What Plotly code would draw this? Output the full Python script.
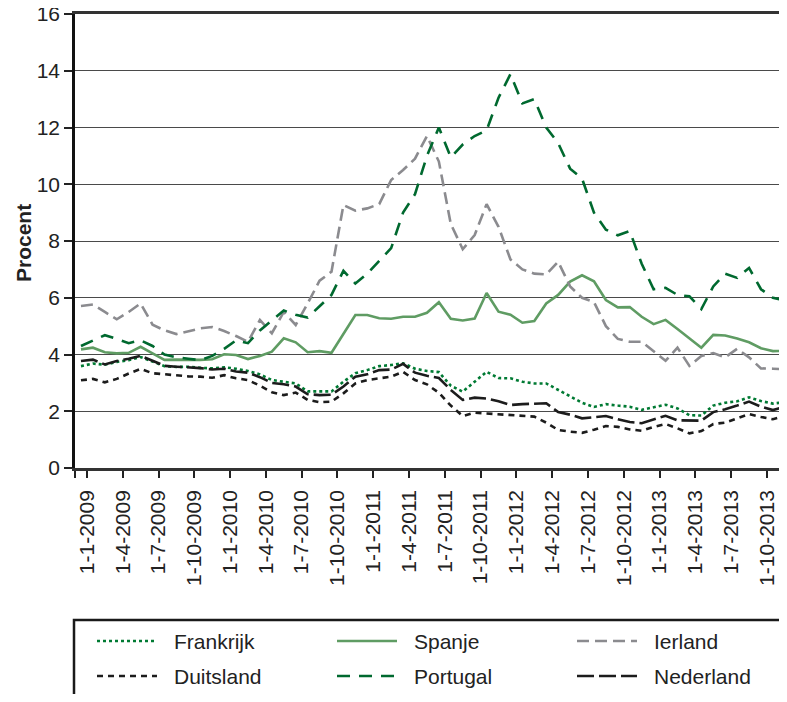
import plotly.graph_objects as go

# monthly values, jan 2009 - dec 2013 (index 0..59)
months = list(range(60))

frankrijk = [3.59, 3.68, 3.64, 3.74, 3.80, 3.91, 3.75, 3.59, 3.56, 3.57, 3.53, 3.51,
             3.55, 3.50, 3.42, 3.30, 3.10, 3.05, 2.98, 2.70, 2.70, 2.70, 3.04, 3.34,
             3.45, 3.59, 3.63, 3.69, 3.50, 3.42, 3.38, 2.90, 2.69, 3.05, 3.39, 3.17,
             3.16, 3.04, 2.98, 2.98, 2.75, 2.52, 2.30, 2.15, 2.25, 2.20, 2.16, 2.05,
             2.15, 2.23, 2.10, 1.86, 1.85, 2.20, 2.30, 2.35, 2.49, 2.36, 2.27, 2.32]

spanje = [4.18, 4.24, 4.08, 4.04, 4.06, 4.27, 4.04, 3.81, 3.82, 3.81, 3.81, 3.83,
          4.01, 3.98, 3.84, 3.95, 4.10, 4.57, 4.43, 4.08, 4.12, 4.06, 4.72, 5.39,
          5.39, 5.28, 5.26, 5.33, 5.33, 5.47, 5.84, 5.26, 5.20, 5.27, 6.17, 5.51,
          5.40, 5.12, 5.18, 5.80, 6.10, 6.57, 6.79, 6.58, 5.92, 5.66, 5.67, 5.33,
          5.07, 5.22, 4.90, 4.57, 4.24, 4.69, 4.67, 4.56, 4.43, 4.22, 4.12, 4.13]

ierland = [5.71, 5.76, 5.50, 5.24, 5.50, 5.80, 5.05, 4.85, 4.72, 4.82, 4.92, 4.97,
           4.83, 4.65, 4.45, 5.22, 4.75, 5.50, 5.04, 5.80, 6.60, 6.92, 9.27, 9.07,
           9.15, 9.30, 10.15, 10.50, 10.90, 11.70, 10.80, 8.60, 7.71, 8.21, 9.30, 8.50,
           7.35, 7.00, 6.85, 6.82, 7.27, 6.40, 6.00, 5.85, 5.00, 4.55, 4.45, 4.45,
           4.10, 3.78, 4.24, 3.60, 3.95, 4.05, 3.90, 4.20, 3.90, 3.51, 3.50, 3.48]

duitsland = [3.09, 3.14, 3.02, 3.14, 3.33, 3.49, 3.34, 3.30, 3.27, 3.23, 3.22, 3.18,
             3.27, 3.16, 3.10, 2.90, 2.67, 2.57, 2.66, 2.40, 2.32, 2.34, 2.63, 2.98,
             3.10, 3.16, 3.22, 3.39, 3.10, 2.95, 2.65, 2.20, 1.83, 1.95, 1.92, 1.89,
             1.87, 1.85, 1.81, 1.60, 1.34, 1.28, 1.24, 1.35, 1.48, 1.45, 1.36, 1.31,
             1.45, 1.55, 1.40, 1.22, 1.30, 1.55, 1.60, 1.75, 1.90, 1.80, 1.72, 1.83]

portugal = [4.30, 4.50, 4.68, 4.55, 4.40, 4.50, 4.30, 4.00, 3.90, 3.85, 3.80, 3.95,
            4.20, 4.50, 4.40, 4.85, 5.20, 5.55, 5.40, 5.30, 5.70, 6.10, 6.95, 6.50,
            6.85, 7.30, 7.75, 9.00, 9.65, 11.00, 12.00, 10.95, 11.40, 11.70, 11.90, 13.05,
            13.88, 12.85, 13.00, 12.00, 11.45, 10.55, 10.20, 9.00, 8.40, 8.20, 8.35, 7.20,
            6.30, 6.35, 6.10, 6.05, 5.60, 6.40, 6.85, 6.70, 7.05, 6.30, 6.00, 5.90]

nederland = [3.77, 3.82, 3.65, 3.77, 3.85, 3.95, 3.78, 3.60, 3.57, 3.55, 3.52, 3.47,
             3.50, 3.40, 3.36, 3.20, 3.00, 2.95, 2.87, 2.60, 2.57, 2.58, 2.87, 3.22,
             3.30, 3.45, 3.47, 3.67, 3.36, 3.25, 3.17, 2.75, 2.40, 2.48, 2.45, 2.35,
             2.22, 2.25, 2.27, 2.28, 1.97, 1.88, 1.75, 1.79, 1.83, 1.72, 1.62, 1.58,
             1.72, 1.84, 1.68, 1.67, 1.67, 1.97, 2.07, 2.20, 2.34, 2.16, 2.04, 2.16]

tick_labels = ['1-1-2009', '1-4-2009', '1-7-2009', '1-10-2009',
               '1-1-2010', '1-4-2010', '1-7-2010', '1-10-2010',
               '1-1-2011', '1-4-2011', '1-7-2011', '1-10-2011',
               '1-1-2012', '1-4-2012', '1-7-2012', '1-10-2012',
               '1-1-2013', '1-4-2013', '1-7-2013', '1-10-2013']

FONT = 'Liberation Sans, Arial, sans-serif'

# name, values, colour, dash
series = [
    ('Frankrijk', frankrijk, '#007a33', 'dot'),
    ('Spanje', spanje, '#5f9c63', 'solid'),
    ('Ierland', ierland, '#8b8b8f', '12px,6px'),
    ('Duitsland', duitsland, '#1c1c1c', '6px,5px'),
    ('Portugal', portugal, '#00692f', '13px,9px'),
    ('Nederland', nederland, '#1c1c1c', '17px,5px'),
]

fig = go.Figure()
for name, vals, col, dash in series:
    fig.add_trace(go.Scatter(x=months, y=vals, mode='lines', name=name,
                             line=dict(color=col, width=2.6, dash=dash)))

# the page body has an 8px margin, so the figure is drawn 8px in from the window corner
OFF = 8
W, H = 787 - OFF, 702 - 2 * OFF
L, R, T = 75 - OFF, 0, 14 - OFF
B = H - (468 - OFF)
pw, ph = W - L - R, H - T - B


def px_x(px):
    # window pixel -> paper x
    return (px - OFF - L) / pw


def px_y(py):
    # window pixel -> paper y
    return (H - B - (py - OFF)) / ph


fig.update_layout(
    width=W, height=H,
    margin=dict(l=L, r=R, t=T, b=B, autoexpand=False),
    paper_bgcolor='white', plot_bgcolor='white',
    showlegend=False,
    font=dict(family=FONT, size=19, color='#222222'),
)

fig.update_xaxes(
    range=[-0.5, 59.18],
    tickvals=[-0.5] + [0.5 + 3 * k for k in range(len(tick_labels))],
    ticktext=[''] + tick_labels,
    tickangle=-90,
    ticks='outside', ticklen=7, tickwidth=1.5, tickcolor='#222222',
    showgrid=False, zeroline=False,
    showline=True, linecolor='#333333', linewidth=2.5, mirror=True,
    tickfont=dict(size=21),
    ticklabelstandoff=4,
    automargin=False,
)
fig.update_yaxes(
    range=[0, 16], dtick=2,
    ticks='outside', ticklen=8, tickwidth=1.5, tickcolor='#222222',
    showgrid=True, gridcolor='#4a4a4a', gridwidth=1.1,
    zeroline=False,
    showline=True, linecolor='#111111', linewidth=2.5,
    tickfont=dict(size=21),
    ticklabeloverflow='allow',
    automargin=False,
)

annotations = [dict(text='<b>Procent</b>', x=px_x(23), y=px_y(243), xref='paper', yref='paper',
                    textangle=-90, showarrow=False, font=dict(size=21, color='#222222'),
                    xanchor='center', yanchor='middle')]

shapes = [dict(type='rect', xref='paper', yref='paper',
               x0=px_x(74), x1=px_x(810), y0=px_y(620), y1=px_y(720),
               line=dict(color='#1a1a1a', width=2.5), fillcolor='rgba(0,0,0,0)')]

# manual legend: 3 columns, 2 rows
cols_x = [97, 337, 577]
rows_y = [641, 676]
for i, (name, vals, col, dash) in enumerate(series):
    cx = cols_x[i % 3]
    cy = rows_y[i // 3]
    shapes.append(dict(type='line', xref='paper', yref='paper',
                       x0=px_x(cx), x1=px_x(cx + 60), y0=px_y(cy), y1=px_y(cy),
                       line=dict(color=col, width=2.6, dash=dash)))
    annotations.append(dict(text=name, x=px_x(cx + 75), y=px_y(cy), xref='paper', yref='paper',
                            showarrow=False, xanchor='left', yanchor='middle',
                            font=dict(size=21, color='#222222')))

fig.update_layout(annotations=annotations, shapes=shapes)

fig.write_html('out.html')
